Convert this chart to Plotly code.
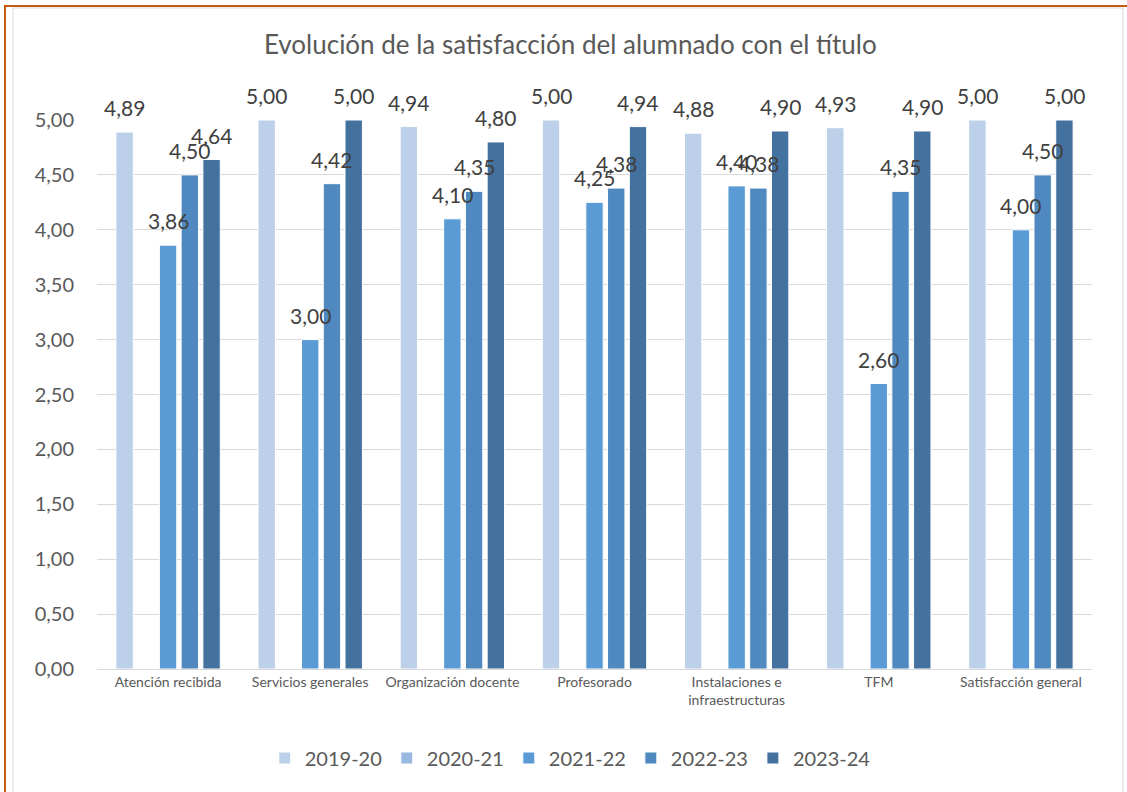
import plotly.graph_objects as go

# Datos
categorias = ['Atención recibida', 'Servicios generales', 'Organización docente',
              'Profesorado', 'Instalaciones e<br>infraestructuras', 'TFM',
              'Satisfacción general']
cursos = ['2019-20', '2020-21', '2021-22', '2022-23', '2023-24']

v_2019_20 = [4.89, 5.00, 4.94, 5.00, 4.88, 4.93, 5.00]
v_2020_21 = [None, None, None, None, None, None, None]
v_2021_22 = [3.86, 3.00, 4.10, 4.25, 4.40, 2.60, 4.00]
v_2022_23 = [4.50, 4.42, 4.35, 4.38, 4.38, 4.35, 4.50]
v_2023_24 = [4.64, 5.00, 4.80, 4.94, 4.90, 4.90, 5.00]

series = [v_2019_20, v_2020_21, v_2021_22, v_2022_23, v_2023_24]
colores = ['#BCD0EA', '#99B8DF', '#5B9BD5', '#4F89BF', '#44729F']

FONT = 'Lato'
W, H = 1127, 792
M_L, M_R, M_T, M_B = 97, 35, 120, 123
BARGAP = 0.235

fig = go.Figure()
for nombre, valores, color in zip(cursos, series, colores):
    fig.add_trace(go.Bar(
        name=nombre,
        x=categorias,
        y=valores,
        marker=dict(color=color, line=dict(color='white', width=1)),
        hoverinfo='x+y+name'
    ))

# Etiquetas de datos (encima de cada barra, desplazadas a su hueco)
ancho_cat = (W - M_L - M_R) / len(categorias)
hueco = ancho_cat * (1 - BARGAP) / len(cursos)
for i, valores in enumerate(series):
    for cat, v in zip(categorias, valores):
        if v is None:
            continue
        fig.add_annotation(
            x=cat, y=v, text=f'{v:.2f}'.replace('.', ','),
            showarrow=False, yanchor='bottom', yshift=10,
            xshift=(i - 2) * hueco,
            font=dict(family=FONT, size=21, color='#404040')
        )

# Bordes de la página / del gráfico
pw = W - M_L - M_R
ph = H - M_T - M_B
def px_x(p):
    return (p - M_L) / pw
def px_y(p):
    return (H - M_B - p) / ph

fig.add_shape(type='rect', xref='paper', yref='paper',
              x0=px_x(13), x1=px_x(1123), y0=px_y(8), y1=px_y(800),
              line=dict(color='#D9D9D9', width=1))
fig.add_shape(type='line', xref='paper', yref='paper',
              x0=px_x(4), x1=px_x(1127), y0=px_y(6), y1=px_y(6),
              line=dict(color='#C55A11', width=2))
fig.add_shape(type='line', xref='paper', yref='paper',
              x0=px_x(5), x1=px_x(5), y0=px_y(6), y1=px_y(792),
              line=dict(color='#C55A11', width=2))

fig.update_layout(
    width=W, height=H,
    margin=dict(l=M_L, r=M_R, t=M_T, b=M_B),
    paper_bgcolor='white', plot_bgcolor='white',
    separators=',.',
    font=dict(family=FONT, color='#595959'),
    title=dict(text='Evolución de la satisfacción del alumnado con el título',
               x=0.506, xanchor='center', y=1 - 45 / H, yanchor='middle',
               font=dict(family=FONT, size=26, color='#595959')),
    barmode='group',
    bargap=BARGAP,
    bargroupgap=0.2,
    showlegend=True,
    legend=dict(orientation='h', xref='container', x=0.506, xanchor='center',
                yref='container', y=1 - 758 / H, yanchor='middle',
                font=dict(family=FONT, size=20, color='#595959'),
                itemwidth=30, traceorder='normal'),
    xaxis=dict(showgrid=False, showline=True, linecolor='#D9D9D9', linewidth=1,
               ticks='', tickfont=dict(family=FONT, size=14, color='#595959')),
    yaxis=dict(range=[0, 5], dtick=0.5, tickformat='.2f', showgrid=True,
               gridcolor='#D9D9D9', gridwidth=1, zeroline=False, showline=False,
               ticks='', ticklabelstandoff=22,
               tickfont=dict(family=FONT, size=20, color='#595959')),
)

# quitar el margen del <body> para que la figura empiece en (0, 0)
fig.write_html('out.html', config={'displayModeBar': False},
               post_script="document.body.style.margin='0';")
